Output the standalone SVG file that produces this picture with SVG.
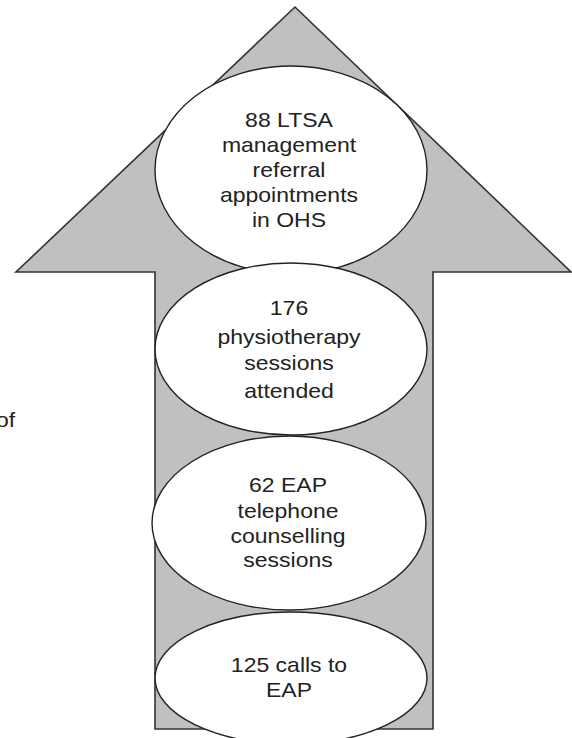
<svg xmlns="http://www.w3.org/2000/svg" width="572" height="738" viewBox="0 0 572 738">
<style>
.arrow{fill:#c0c0c0;stroke:#333;stroke-width:1.6;stroke-linejoin:miter}
.node{fill:#fff;stroke:#222;stroke-width:1.4}
.lbl{font-family:"Liberation Sans",Arial,sans-serif;font-size:20px;fill:#222;text-anchor:middle}
.free{font-family:"Liberation Sans",Arial,sans-serif;font-size:20px;fill:#222}
</style>
<rect width="572" height="738" fill="#fff"/>
<g id="connectors">
<path id="arrow" class="arrow" d="M295,7 L571,272 L433,272 L433,729 L155,729 L155,272 L16,272 Z"/>
</g>
<g id="node-ltsa">
<ellipse class="node" cx="291" cy="170" rx="136" ry="104"/>
<g transform="translate(289 0) scale(1.15 1)">
<text class="lbl" x="0" y="127">88 LTSA</text>
<text class="lbl" x="0" y="152">management</text>
<text class="lbl" x="0" y="177">referral</text>
<text class="lbl" x="0" y="202">appointments</text>
<text class="lbl" x="0" y="227">in OHS</text>
</g>
</g>
<g id="node-physio">
<ellipse class="node" cx="291" cy="349" rx="136" ry="86"/>
<g transform="translate(289 0) scale(1.15 1)">
<text class="lbl" x="0" y="315">176</text>
<text class="lbl" x="0" y="344">physiotherapy</text>
<text class="lbl" x="0" y="370">sessions</text>
<text class="lbl" x="0" y="398">attended</text>
</g>
</g>
<g id="node-eap-tel">
<ellipse class="node" cx="289" cy="523" rx="137" ry="87"/>
<g transform="translate(288 0) scale(1.15 1)">
<text class="lbl" x="0" y="492">62 EAP</text>
<text class="lbl" x="0" y="518">telephone</text>
<text class="lbl" x="0" y="543">counselling</text>
<text class="lbl" x="0" y="567">sessions</text>
</g>
</g>
<g id="node-calls">
<ellipse class="node" cx="291" cy="678" rx="136" ry="66"/>
<g transform="translate(289 0) scale(1.15 1)">
<text class="lbl" x="0" y="672">125 calls to</text>
<text class="lbl" x="0" y="697">EAP</text>
</g>
</g>
<g id="fragment">
<text class="free" transform="translate(-4 0) scale(1.15 1)" x="0" y="427">of</text>
</g>
</svg>
